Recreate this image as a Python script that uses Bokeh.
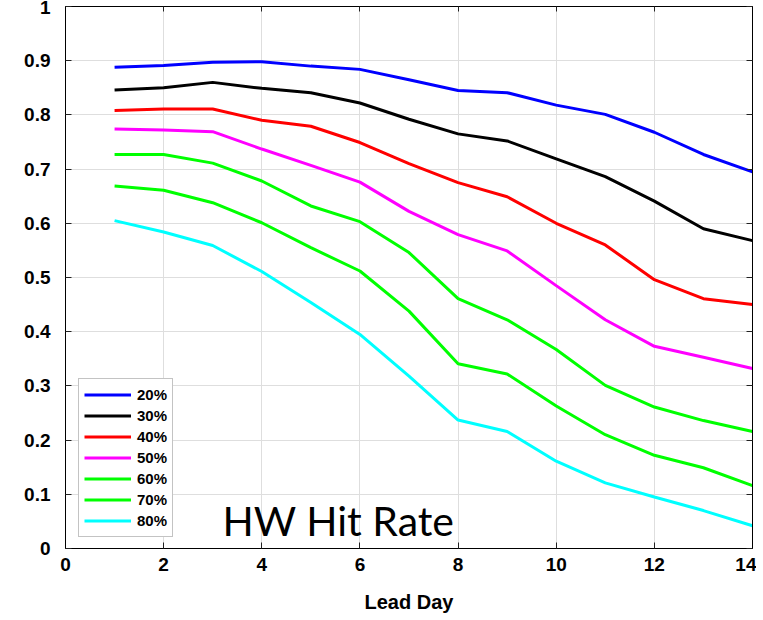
from bokeh.plotting import figure
from bokeh.models import Range1d, LinearAxis, FixedTicker, Legend, LegendItem, Label
from bokeh.embed import file_html
from bokeh.resources import INLINE

lead_day = [1, 2, 3, 4, 5, 6, 7, 8, 9, 10, 11, 12, 13, 14]

hit_20 = [0.888, 0.891, 0.897, 0.898, 0.890, 0.884, 0.865, 0.845, 0.841, 0.818, 0.801, 0.768, 0.727, 0.695]
hit_30 = [0.846, 0.850, 0.860, 0.849, 0.841, 0.822, 0.792, 0.765, 0.752, 0.719, 0.686, 0.641, 0.590, 0.568]
hit_40 = [0.808, 0.811, 0.811, 0.790, 0.779, 0.749, 0.710, 0.675, 0.649, 0.600, 0.560, 0.496, 0.461, 0.450]
hit_50 = [0.774, 0.772, 0.769, 0.737, 0.707, 0.676, 0.622, 0.579, 0.549, 0.485, 0.422, 0.373, 0.353, 0.332]
hit_60 = [0.727, 0.727, 0.711, 0.678, 0.632, 0.603, 0.546, 0.461, 0.422, 0.367, 0.301, 0.261, 0.236, 0.216]
hit_70 = [0.669, 0.661, 0.638, 0.601, 0.555, 0.512, 0.438, 0.341, 0.322, 0.263, 0.210, 0.172, 0.149, 0.116]
hit_80 = [0.605, 0.584, 0.559, 0.511, 0.454, 0.395, 0.318, 0.237, 0.216, 0.161, 0.121, 0.095, 0.070, 0.042]

series_names = ["20%", "30%", "40%", "50%", "60%", "70%", "80%"]
series_values = [hit_20, hit_30, hit_40, hit_50, hit_60, hit_70, hit_80]
series_colors = ["#0000ff", "#000000", "#ff0000", "#ff00ff", "#00ff00", "#00ff00", "#00ffff"]

x_ticks = [0, 2, 4, 6, 8, 10, 12, 14]
y_ticks = [0, 0.1, 0.2, 0.3, 0.4, 0.5, 0.6, 0.7, 0.8, 0.9, 1.0]
y_tick_labels = {0: "0", 0.1: "0.1", 0.2: "0.2", 0.3: "0.3", 0.4: "0.4", 0.5: "0.5",
                 0.6: "0.6", 0.7: "0.7", 0.8: "0.8", 0.9: "0.9", 1.0: "1"}

p = figure(frame_width=687, frame_height=542, output_backend="svg", toolbar_location=None,
           x_range=Range1d(0, 14), y_range=Range1d(0, 1),
           min_border_left=65, min_border_right=4, min_border_top=6, min_border_bottom=66)
p.background_fill_color = "white"
p.border_fill_color = "white"
p.outline_line_color = "black"
p.outline_line_width = 1

FONT = "Liberation Sans"

for ax in [p.xaxis[0], p.yaxis[0]]:
    ax.major_label_text_font = FONT
    ax.major_label_text_font_style = "bold"
    ax.major_label_text_font_size = "19px"
    ax.major_label_text_color = "black"
    ax.major_tick_in = 6
    ax.major_tick_out = 0
    ax.minor_tick_line_color = None
    ax.axis_line_color = "black"
    ax.major_tick_line_color = "#222222"

p.xaxis[0].ticker = FixedTicker(ticks=x_ticks)
p.yaxis[0].ticker = FixedTicker(ticks=y_ticks)
p.yaxis[0].major_label_overrides = y_tick_labels
p.xaxis[0].major_label_standoff = 9
p.yaxis[0].major_label_standoff = 15
p.xaxis[0].axis_label = "Lead Day"
p.xaxis[0].axis_label_text_font = FONT
p.xaxis[0].axis_label_text_font_style = "bold"
p.xaxis[0].axis_label_text_font_size = "20px"
p.xaxis[0].axis_label_text_color = "black"
p.xaxis[0].axis_label_standoff = 17

# mirrored tick axes (box on)
right_ax = LinearAxis(ticker=FixedTicker(ticks=y_ticks), major_label_text_font_size="0px",
                      major_label_standoff=0, major_tick_in=6, major_tick_out=0,
                      minor_tick_line_color=None, axis_line_color="black",
                      major_tick_line_color="#222222")
top_ax = LinearAxis(ticker=FixedTicker(ticks=x_ticks), major_label_text_font_size="0px",
                    major_label_standoff=0, major_tick_in=5, major_tick_out=0,
                    minor_tick_line_color=None, axis_line_color="black",
                    major_tick_line_color="#222222")
p.add_layout(right_ax, "right")
p.add_layout(top_ax, "above")

p.xgrid.ticker = FixedTicker(ticks=x_ticks)
p.ygrid.ticker = FixedTicker(ticks=y_ticks)
p.grid.grid_line_color = "#dedede"
p.grid.grid_line_width = 1

items = []
for name, vals, col in zip(series_names, series_values, series_colors):
    r = p.line(lead_day, vals, line_color=col, line_width=3)
    items.append(LegendItem(label=name, renderers=[r]))

legend = Legend(items=items, location=(13, 11))
legend.label_text_font = FONT
legend.label_text_font_style = "bold"
legend.label_text_font_size = "15px"
legend.label_text_color = "black"
legend.label_height = 21
legend.glyph_height = 21
legend.glyph_width = 47
legend.label_standoff = 6
legend.spacing = 0
legend.padding = 5
legend.margin = 0
legend.border_line_color = "#888888"
legend.border_line_width = 1
legend.background_fill_color = "white"
legend.background_fill_alpha = 1
p.add_layout(legend, "center")

title_label = Label(x=3.20, y=0.052, text="HW Hit Rate", text_font="Lato", text_font_size="41px",
                    text_color="black", text_baseline="alphabetic", text_align="left")
p.add_layout(title_label)

open("out.html", "w").write(file_html(p, INLINE))
